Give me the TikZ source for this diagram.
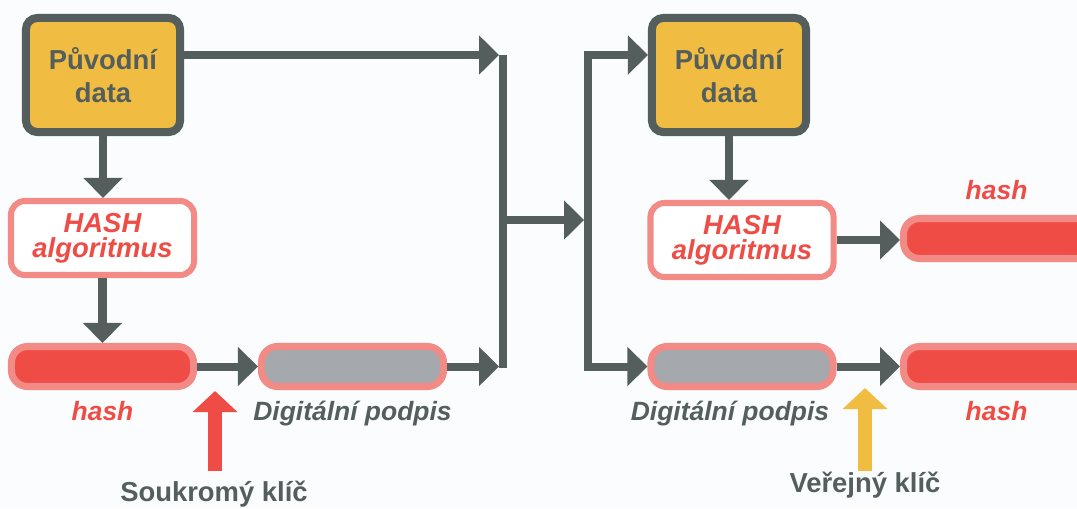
\documentclass[tikz,border=0pt]{standalone}
\usepackage{fontspec}
\setmainfont{Liberation Sans}
\usetikzlibrary{positioning,calc,arrows.meta}
\definecolor{slate}{RGB}{84,94,92}
\definecolor{sunyellow}{RGB}{240,188,66}
\definecolor{salmon}{RGB}{242,138,133}
\definecolor{hashred}{RGB}{239,76,70}
\definecolor{siggrey}{RGB}{165,168,172}
\definecolor{paper}{RGB}{251,252,253}

\begin{document}
\begin{tikzpicture}[x=0.025cm, y=-0.025cm,
	every node/.style={inner sep=0pt},
	databox/.style={draw=slate, fill=sunyellow, line width=5.7pt, rounded corners=0.28cm,
		minimum width=3.85cm, minimum height=2.85cm, align=center, text=slate,
		font=\bfseries\fontsize{19.5}{23.5}\selectfont},
	hashalg/.style={draw=salmon, fill=white, line width=4.3pt, rounded corners=0.35cm,
		minimum width=4.575cm, minimum height=1.85cm, align=center, text=hashred,
		font=\bfseries\itshape\fontsize{19.5}{17.8}\selectfont},
	bar/.style={draw=salmon, line width=5pt, rounded corners=0.4cm, minimum width=4.55cm, minimum height=1cm},
	hashbar/.style={bar, fill=hashred},
	sigbar/.style={bar, fill=siggrey},
	hashlbl/.style={text=hashred, font=\bfseries\itshape\fontsize{18.8}{22}\selectfont},
	siglbl/.style={text=slate, font=\bfseries\itshape\fontsize{18.8}{22}\selectfont},
	keylbl/.style={text=slate, font=\bfseries\fontsize{19.5}{23}\selectfont},
	flow/.style={draw=slate, line width=5.7pt},
	arr/.style={flow, -{Triangle[length=0.5cm,width=0.95cm]}},
	keyarr/.style={line width=10pt, -{Triangle[length=0.53cm,width=1.1cm]}}]

	\useasboundingbox (0,0) rectangle (1077,508);
	\fill[paper] (0,0) rectangle (1077,508);
	\clip (0,0) rectangle (1077,508);

	% podpis
	\node[databox] (datL) at (103,75) {Původní\\data};
	\node[hashalg] (algL) at (102.5,238) {HASH\\algoritmus};
	\node[hashbar] (hashL) at (102.5,366.5) {};
	\node[sigbar] (sigL) at (352.5,366.5) {};
	\node[hashlbl, below=0.28cm of hashL] (hashLtxt) {hash};
	\node[siglbl, below=0.28cm of sigL] (sigLtxt) {Digitální podpis};
	\node[keylbl, anchor=base] (privkey) at (214,501) {Soukromý klíč};
	\coordinate (privtip) at (215,391);

	% overeni
	\node[databox] (datR) at (729,75) {Původní\\data};
	\node[hashalg] (algR) at (742,240) {HASH\\algoritmus};
	\node[hashbar, minimum width=4.75cm, anchor=west] (hashRt) at (900,238.5) {};
	\node[sigbar] (sigR) at (742,366.5) {};
	\node[hashbar, minimum width=4.75cm, anchor=west] (hashRb) at (900,366.5) {};
	\node[hashlbl, above=0.375cm of hashRt, xshift=-0.05cm] (hashRttxt) {hash};
	\node[hashlbl, below=0.28cm of hashRb, xshift=-0.05cm] (hashRbtxt) {hash};
	\node[siglbl, below=0.28cm of sigR, xshift=-0.3cm] (sigRtxt) {Digitální podpis};
	\node[keylbl, anchor=base] (pubkey) at (865,492) {Veřejný klíč};
	\coordinate (pubtip) at (865,388);

	% spojnice
	\coordinate (jlt) at (503,55);
	\coordinate (jlb) at (503,368);
	\coordinate (jlm) at (503,220);
	\coordinate (jrm) at (588,220);

	\draw[arr] (datL.south) -- (datL.south |- algL.north);
	\draw[arr] (algL.south) -- (algL.south |- hashL.north);
	\draw[arr] (hashL) -- (sigL);
	\draw[flow] (jlt) -- (jlb);
	\draw[arr, shorten >=2.8pt] (datL.east |- jlt) -- (jlt);
	\draw[arr, shorten >=2.8pt] (sigL.east) -- (sigL.east -| jlt);
	\draw[arr, shorten >=2.8pt] (jlm) -- (jrm);
	\draw[arr] (jrm) |- (datR.west |- jlt);
	\draw[arr] (jrm) |- (sigR.west);
	\draw[arr] (datR.south) -- (datR.south |- algR.north);
	\draw[arr] (algR.east) -- (algR.east -| hashRt.west);
	\draw[arr] (sigR) -- (hashRb);

	\draw[keyarr, draw=hashred, fill=hashred, shorten <=0.22cm] (privkey.north -| privtip) -- (privtip);
	\draw[keyarr, draw=sunyellow, fill=sunyellow] (pubkey.north -| pubtip) -- (pubtip);
\end{tikzpicture}
\end{document}
